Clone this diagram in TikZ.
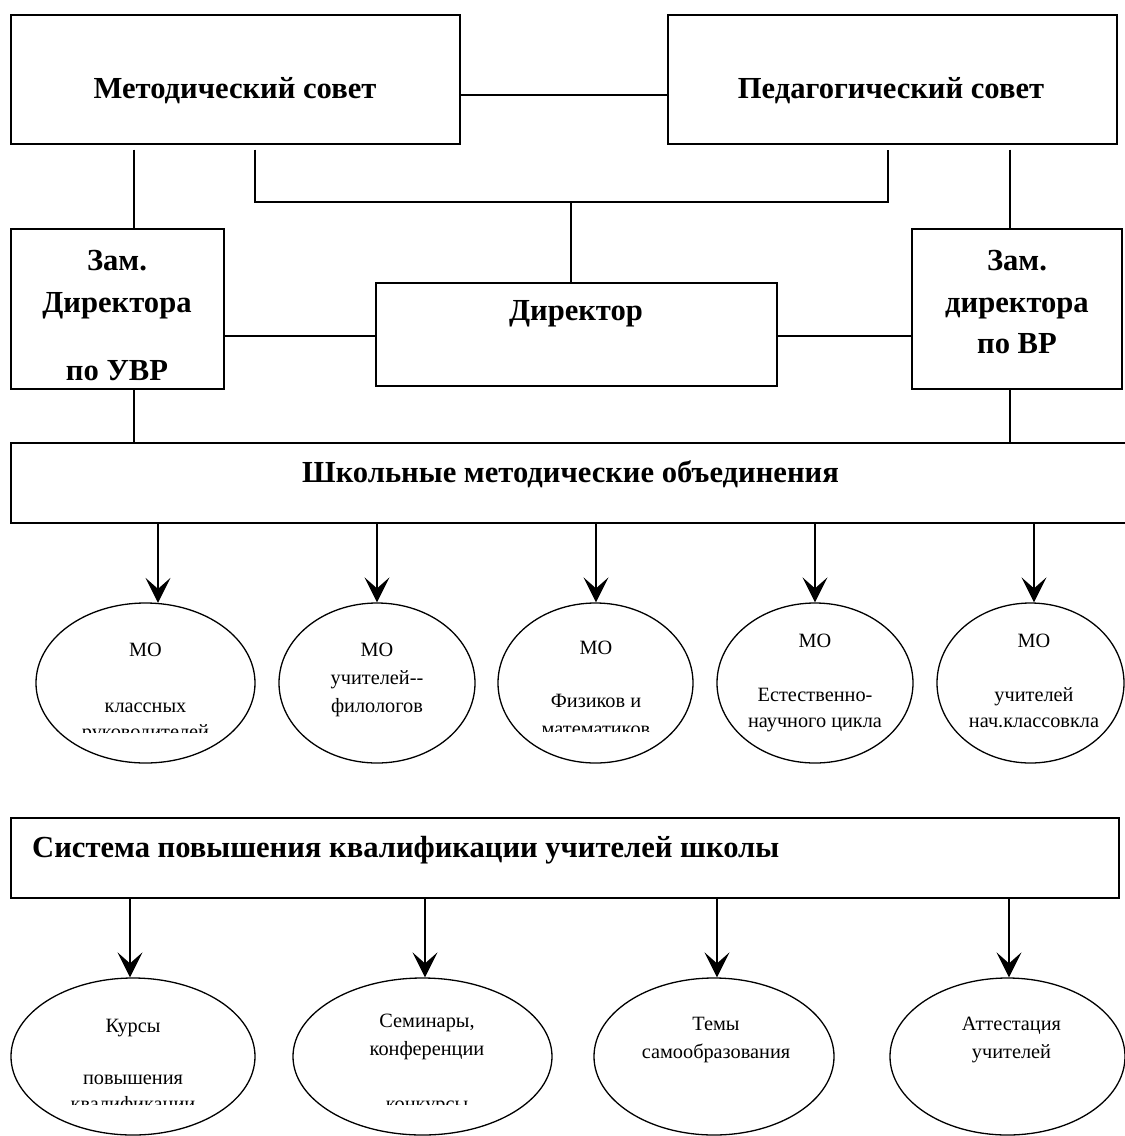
\documentclass[tikz,border=0pt]{standalone}
\usepackage{fontspec}
\setmainfont{Liberation Serif}
\usetikzlibrary{shapes.geometric,arrows.meta}
\begin{document}
\begin{tikzpicture}[x=1pt,y=-1pt,
  box/.style={draw,line width=1.3pt,rectangle,inner sep=0pt},
  oval/.style={draw,line width=1.3pt,ellipse,inner sep=0pt},
  conn/.style={line width=1.3pt},
  arr/.style={line width=1.5pt,-{Stealth[length=25pt,width=25pt,inset=11pt]}},
  btxt/.style={anchor=base,inner sep=0pt,font=\fontsize{30.6}{36}\selectfont\bfseries},
  rtxt/.style={anchor=base,inner sep=0pt,font=\fontsize{20.3}{28}\selectfont},
]
\clip (0,0) rectangle (1125,1136);
\fill[white] (0,0) rectangle (1125,1136);

% boxes
\node[box,minimum width=449pt,minimum height=129pt] (metod) at (235.5,79.5) {};
\node[box,minimum width=449pt,minimum height=129pt] (ped) at (892.5,79.5) {};
\node[box,minimum width=213pt,minimum height=160pt] (zuvr) at (117.5,309) {};
\node[box,minimum width=401pt,minimum height=103pt] (dir) at (576.5,334.5) {};
\node[box,minimum width=210pt,minimum height=160pt] (zvr) at (1017,309) {};
\node[box,minimum width=1129pt,minimum height=80pt] (shmo) at (575.5,483) {};
\node[box,minimum width=1108pt,minimum height=80pt] (sys) at (565,858) {};

% box texts
\node[btxt] (tmetod) at (235,98) {Методический совет};
\node[btxt] (tped) at (891,98) {Педагогический совет};
\node[btxt] (tdir) at (576,320) {Директор};
\node[btxt] (tz1a) at (117,270) {Зам.};
\node[btxt] (tz1b) at (117,312) {Директора};
\node[btxt] (tz1c) at (117,380) {по УВР};
\node[btxt] (tz2a) at (1017,270) {Зам.};
\node[btxt] (tz2b) at (1017,312) {директора};
\node[btxt] (tz2c) at (1017,353) {по ВР};
\node[btxt] (tshmo) at (570.5,482) {Школьные методические объединения};
\node[btxt,anchor=base west] (tsys) at (32,857) {Система повышения квалификации учителей школы};

% connectors top
\draw[conn] ([yshift=-15.5pt]metod.east) -- ([yshift=-15.5pt]metod.east -| ped.west);
\draw[conn] ([xshift=-101.5pt,yshift=-5pt]metod.south) -- ([xshift=16.5pt]zuvr.north);
\coordinate (jn) at (571,202);
\draw[conn] ([xshift=19.5pt,yshift=-5pt]metod.south) |- (jn) -| ([xshift=-4.5pt,yshift=-5pt]ped.south);
\draw[conn] (jn) -- ([xshift=-5.5pt]dir.north);
\draw[conn] ([xshift=117.5pt,yshift=-5pt]ped.south) -- ([xshift=-7pt]zvr.north);
\draw[conn] ([yshift=-27pt]zuvr.east) -- ([yshift=-27pt]zuvr.east -| dir.west);
\draw[conn] ([yshift=-1.5pt]dir.east) -- ([yshift=-1.5pt]dir.east -| zvr.west);
\draw[conn] ([xshift=16.5pt]zuvr.south) -- ([xshift=16.5pt]zuvr.south |- shmo.north);
\draw[conn] ([xshift=-7pt]zvr.south) -- ([xshift=-7pt]zvr.south |- shmo.north);

% row 1 ellipses
\node[oval,minimum width=219pt,minimum height=160pt] (m1) at (145.5,683) {};
\node[oval,minimum width=196pt,minimum height=160pt] (m2) at (377,683) {};
\node[oval,minimum width=195pt,minimum height=160pt] (m3) at (595.5,683) {};
\node[oval,minimum width=196pt,minimum height=160pt] (m4) at (815,683) {};
\node[oval,minimum width=187pt,minimum height=160pt] (m5) at (1030.5,683) {};

\draw[arr] ([xshift=12.5pt]m1.north |- shmo.south) -- ([xshift=12.5pt,yshift=-0.5pt]m1.north);
\draw[arr] (m2.north |- shmo.south) -- (m2.north);
\draw[arr] ([xshift=0.5pt]m3.north |- shmo.south) -- ([xshift=0.5pt]m3.north);
\draw[arr] (m4.north |- shmo.south) -- (m4.north);
\draw[arr] ([xshift=3.5pt]m5.north |- shmo.south) -- ([xshift=3.5pt]m5.north);

\node[rtxt] (m1a) at (145.5,656) {МО};
\node[rtxt] (m1b) at (145.5,712) {классных};
\begin{scope}
\clip (36,600) rectangle (255,732);
\node[rtxt] (m1c) at (145.5,738) {руководителей};
\end{scope}
\node[rtxt] (m2a) at (377,656) {МО};
\node[rtxt] (m2b) at (377,684) {учителей-{}-};
\node[rtxt] (m2c) at (377,712) {филологов};
\node[rtxt] (m3a) at (596,654) {МО};
\node[rtxt] (m3b) at (596,707) {Физиков и};
\begin{scope}
\clip (498,600) rectangle (693,731);
\node[rtxt] (m3c) at (596,735) {математиков};
\end{scope}
\node[rtxt] (m4a) at (815,647) {МО};
\node[rtxt] (m4b) at (815,701) {Естественно-};
\node[rtxt] (m4c) at (815,727) {научного цикла};
\node[rtxt] (m5a) at (1034,647) {МО};
\node[rtxt] (m5b) at (1034,701) {учителей};
\node[rtxt] (m5c) at (1034,727) {нач.классовкла};

% row 2 ellipses
\node[oval,minimum width=244pt,minimum height=157pt] (k1) at (133,1056.5) {};
\node[oval,minimum width=259pt,minimum height=157pt] (k2) at (422.5,1056.5) {};
\node[oval,minimum width=240pt,minimum height=157pt] (k3) at (714,1056.5) {};
\node[oval,minimum width=235pt,minimum height=157pt] (k4) at (1007.5,1056.5) {};

\draw[arr] ([xshift=-3pt]k1.north |- sys.south) -- ([xshift=-3pt]k1.north);
\draw[arr] ([xshift=2.5pt]k2.north |- sys.south) -- ([xshift=2.5pt]k2.north);
\draw[arr] ([xshift=3pt]k3.north |- sys.south) -- ([xshift=3pt]k3.north);
\draw[arr] ([xshift=1.5pt]k4.north |- sys.south) -- ([xshift=1.5pt]k4.north);

\node[rtxt] (k1a) at (133,1032) {Курсы};
\node[rtxt] (k1b) at (133,1084) {повышения};
\begin{scope}
\clip (0,975) rectangle (260,1104);
\node[rtxt] (k1c) at (133,1110) {квалификации};
\end{scope}
\node[rtxt] (k2a) at (427,1027) {Семинары,};
\node[rtxt] (k2b) at (427,1055) {конференции};
\begin{scope}
\clip (290,975) rectangle (555,1104);
\node[rtxt] (k2c) at (427,1110) {конкурсы};
\end{scope}
\node[rtxt] (k3a) at (716,1030) {Темы};
\node[rtxt] (k3b) at (716,1058) {самообразования};
\node[rtxt] (k4a) at (1011.5,1030) {Аттестация};
\node[rtxt] (k4b) at (1011.5,1058) {учителей};
\end{tikzpicture}
\end{document}
